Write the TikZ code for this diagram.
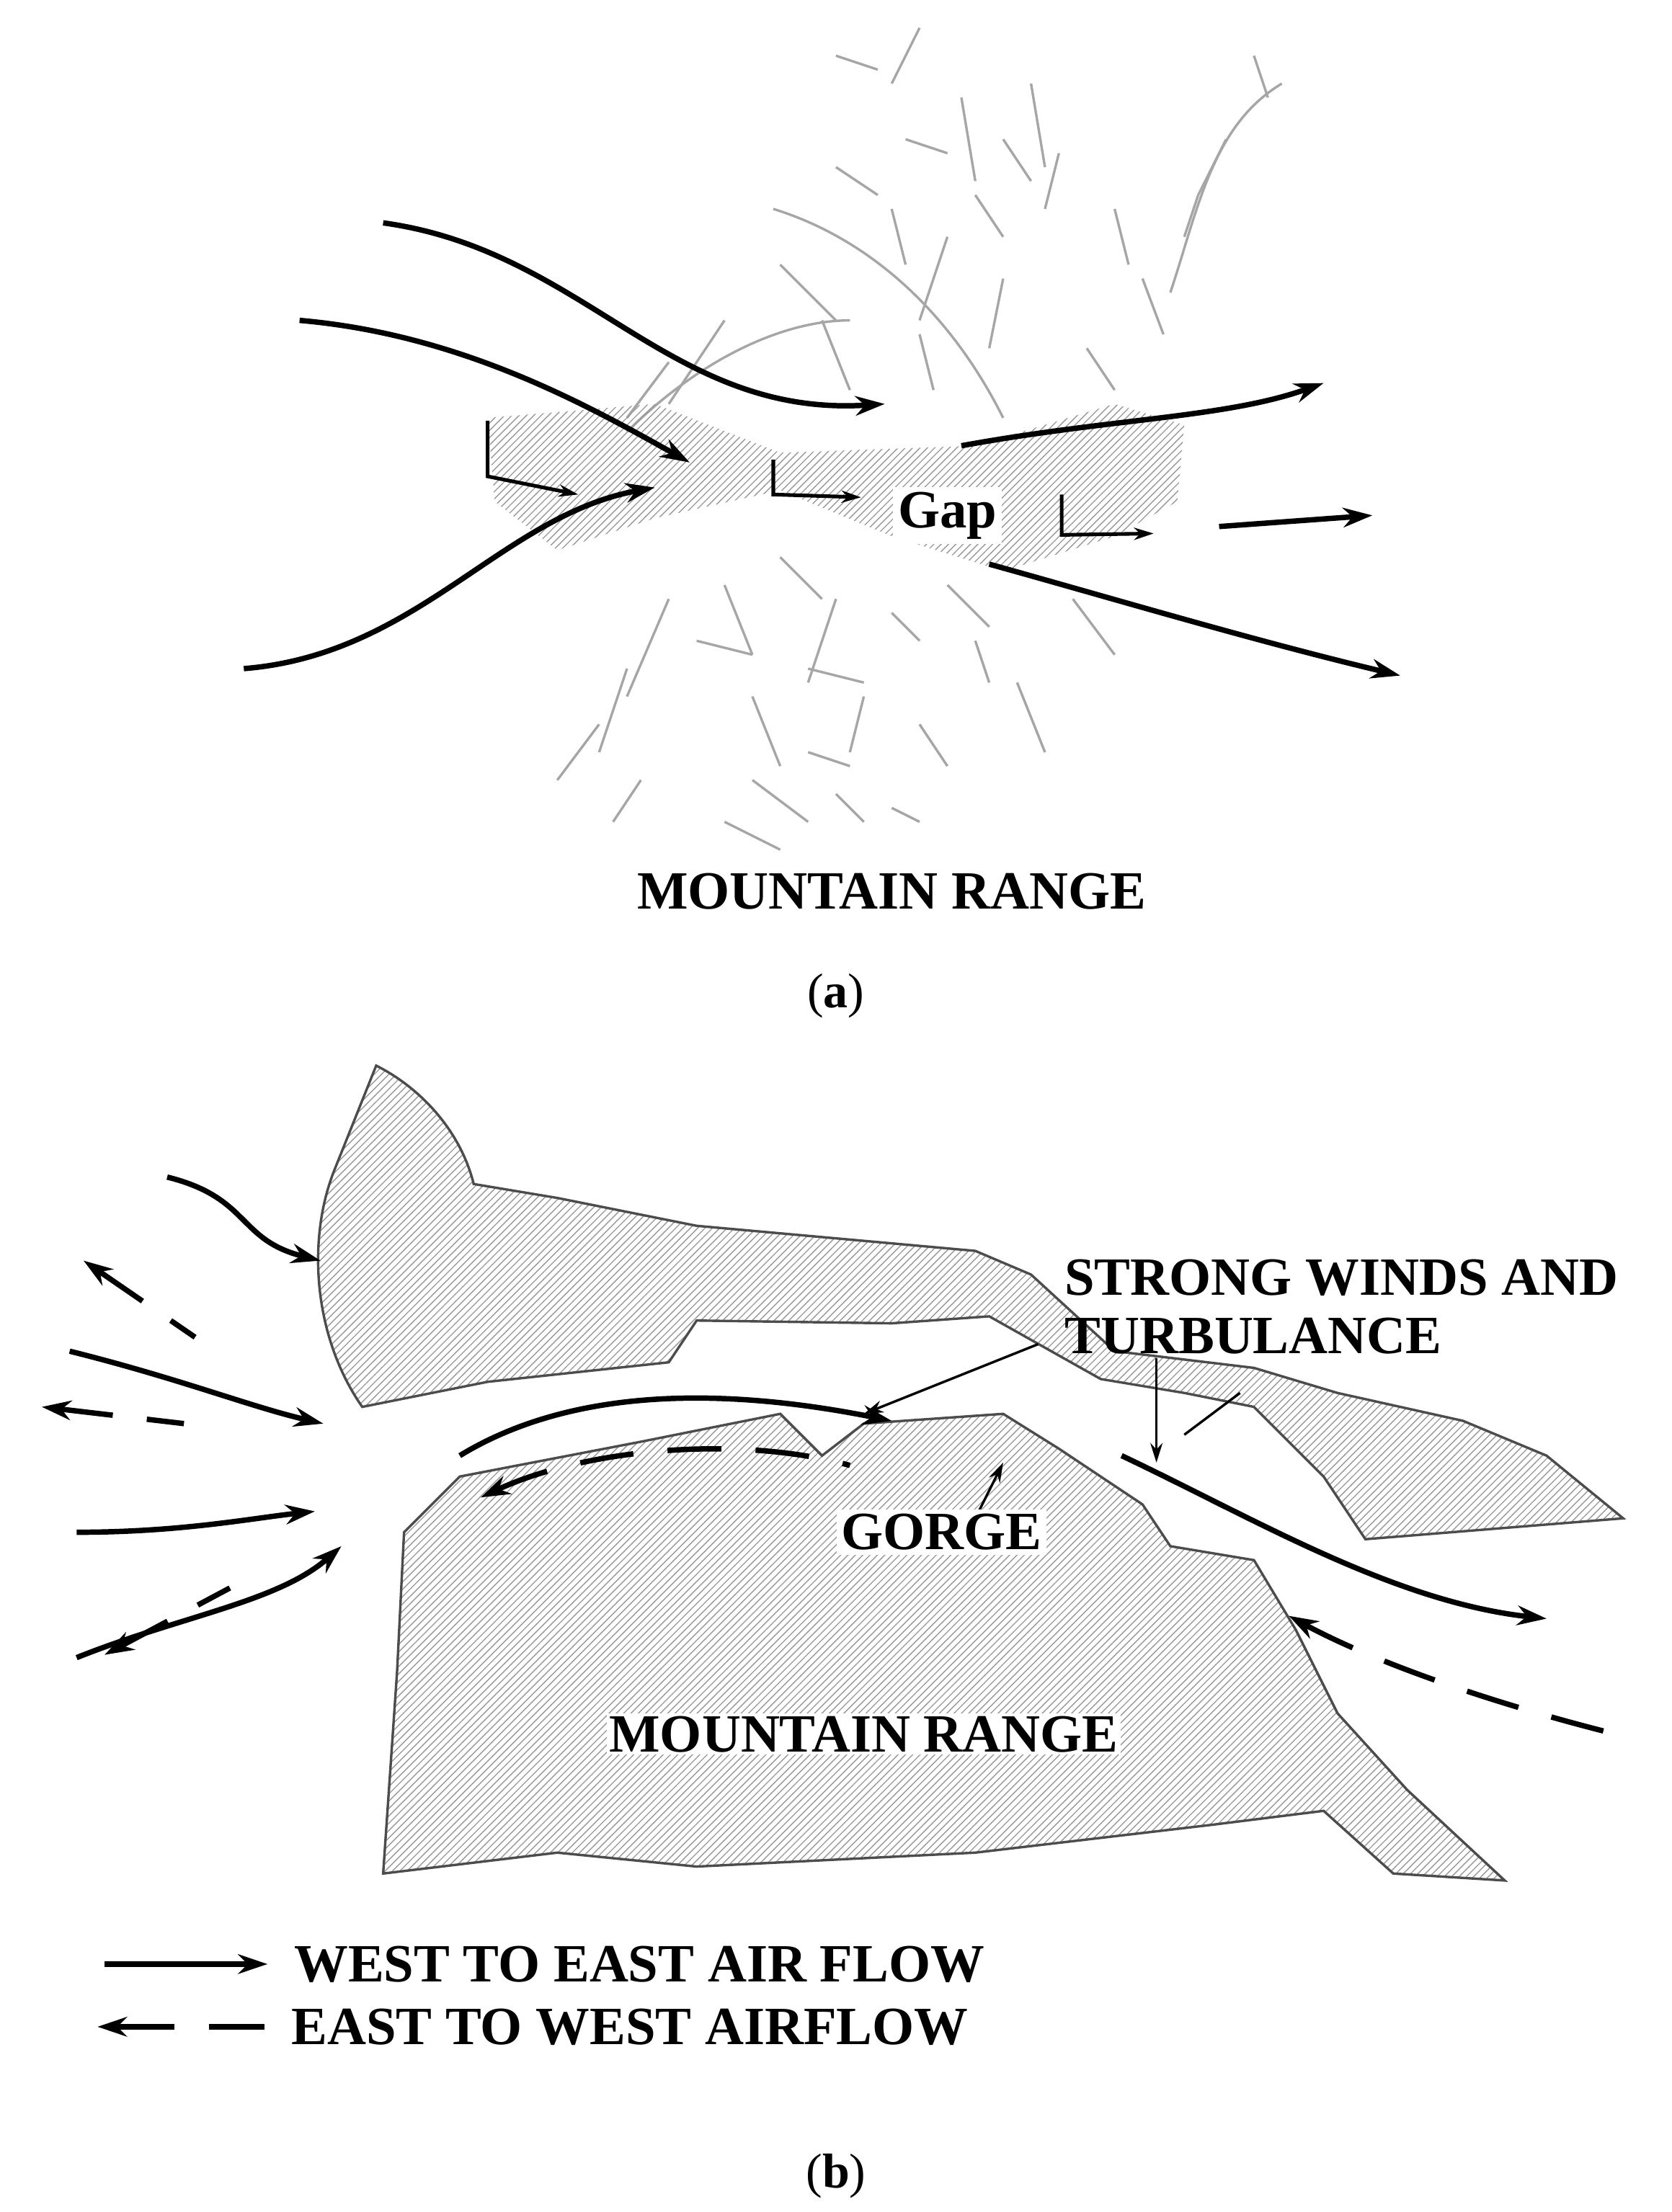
\documentclass[tikz,border=0pt]{standalone}
\usepackage{fontspec}
\setmainfont{Liberation Serif}
\usetikzlibrary{patterns,arrows.meta}
\begin{document}
\begin{tikzpicture}[x=0.02cm,y=-0.02cm,
 flow/.style={line width=2.2pt,-{Stealth[length=12pt,width=8pt]}},
 back/.style={line width=2.2pt,dash pattern=on 22pt off 14pt,{Stealth[length=12pt,width=8pt]}-},
 ptr/.style={line width=1pt,-{Stealth[length=8pt,width=5pt]}},
 sk/.style={gray!70,line width=1pt},
 hat/.style={pattern=north east lines,pattern color=gray!80,draw=black!70,line width=1pt},
 lab/.style={font=\bfseries\fontsize{22}{24}\selectfont},
 captxt/.style={font=\fontsize{20}{22}\selectfont}]
\useasboundingbox (0,0) rectangle (1200,1588);
% ---------- (a) sketch strokes
\foreach \x/\y/\dx/\dy in {600/40/30/10,640/60/20/-40,690/70/10/60,720/100/20/30,760/110/-10/40,800/150/10/40,
 820/200/15/40,600/120/30/20,640/150/10/40,680/170/-20/60,560/190/40/40,590/230/20/50,660/240/10/40,720/200/-10/50,
 780/250/20/30,520/230/-40/60,480/260/-30/40,700/140/20/30,650/100/30/10,740/60/10/60,
 520/420/20/50,560/400/30/30,600/430/-20/60,640/440/20/20,580/480/40/10,620/500/-10/40,540/500/20/50,
 480/430/-30/70,450/480/-20/60,430/520/-30/40,580/540/30/10,600/570/20/20,540/560/40/30,660/520/20/30,
 700/460/10/30,640/580/20/10,520/590/40/20,460/560/-20/30,680/420/30/30,500/460/40/10,
 880/100/-20/40,900/40/10/30,860/140/-10/30,770/430/30/40,730/490/20/50}
 \draw[sk] (\x,\y) -- ++(\dx,\dy);
\draw[sk] (555,150) .. controls (620,170) and (680,220) .. (720,300);
\draw[sk] (450,310) .. controls (500,260) and (560,230) .. (610,230);
\draw[sk] (920,60) .. controls (870,90) and (860,150) .. (840,210);
% ---------- (a) gap
\path[hat,draw=none] (350,300) -- (470,290) -- (560,325) -- (700,320) -- (800,290) -- (850,305) -- (845,360) -- (800,385)
 -- (720,410) -- (640,385) -- (560,352) -- (470,372) -- (400,395) -- (355,360) -- cycle;
\node[lab,fill=white,inner sep=2pt] (gap) at (680,370) {Gap};
\draw[flow] (275,160) .. controls (420,180) and (480,300) .. (635,290);
\draw[flow] (215,230) .. controls (330,240) and (420,290) .. (495,332);
\draw[flow] (175,480) .. controls (300,470) and (360,370) .. (470,350);
\draw[flow] (690,320) .. controls (800,300) and (880,300) .. (950,275);
\draw[flow] (710,405) .. controls (800,430) and (900,460) .. (1005,485);
\draw[flow] (875,378) -- (985,370);
\draw[ptr,line width=1.5pt] (350,302) -- (350,342) -- (415,355);
\draw[ptr,line width=1.5pt] (555,330) -- (555,355) -- (618,357);
\draw[ptr,line width=1.5pt] (762,355) -- (762,384) -- (828,383);
\node[lab] (mra) at (640,640) {MOUNTAIN RANGE};
\node[captxt] (ca) at (600,715) {(\textbf{a})};
% ---------- (b) mountains
\path[hat] (270,765) .. controls (300,780) and (330,810) .. (340,850) -- (400,860) -- (500,880) -- (700,898)
 -- (740,915) -- (800,970) -- (900,982) -- (960,1000) -- (1050,1020) -- (1110,1045) -- (1165,1090) -- (980,1105) -- (950,1060)
 -- (900,1010) -- (850,1000) -- (790,990) -- (710,945) -- (640,950) -- (500,948) -- (480,978) -- (350,992)
 -- (260,1010) .. controls (225,960) and (220,890) .. (240,840) -- cycle;
\path[hat] (275,1345) -- (285,1200) -- (290,1100) -- (330,1060) -- (460,1035) -- (560,1015) -- (590,1045) -- (620,1022)
 -- (720,1015) -- (760,1040) -- (820,1080) -- (840,1110) -- (900,1120) -- (930,1170) -- (960,1230) -- (1010,1285)
 -- (1080,1350) -- (1000,1345) -- (950,1300) -- (870,1310) -- (700,1330) -- (500,1340) -- (400,1330) -- cycle;
\draw[flow] (120,845) .. controls (180,860) and (170,890) .. (230,905);
\draw[flow] (50,970) .. controls (130,990) and (180,1010) .. (232,1022);
\draw[flow] (55,1100) .. controls (130,1100) and (180,1090) .. (226,1085);
\draw[flow] (55,1190) .. controls (130,1160) and (200,1150) .. (245,1110);
\draw[flow] (330,1045) .. controls (420,990) and (540,1000) .. (640,1020);
\draw[flow] (805,1045) .. controls (900,1090) and (1000,1150) .. (1110,1162);
\draw[back] (60,905) -- (140,960);
\draw[back] (30,1010) -- (132,1022);
\draw[back] (345,1075) .. controls (420,1040) and (530,1030) .. (610,1052);
\draw[back] (75,1188) -- (165,1140);
\draw[back] (925,1160) .. controls (980,1190) and (1060,1220) .. (1160,1245);
\draw[ptr] (745,965) -- (620,1015);
\draw[ptr] (830,975) -- (830,1050);
\draw[line width=1pt] (890,1000) -- (850,1030);
\draw[ptr] (700,1090) -- (720,1050);
\node[lab,align=left,anchor=west] (sw) at (758,938) {STRONG WINDS AND\\TURBULANCE};
\node[lab,anchor=west,fill=white,inner sep=2pt] (gorge) at (600,1100) {GORGE};
\node[lab,fill=white,inner sep=1pt] (mrb) at (620,1245) {MOUNTAIN RANGE};
% legend
\coordinate (l1a) at (75,1410); \coordinate (l1b) at (192,1410);
\coordinate (l2a) at (190,1455); \coordinate (l2b) at (70,1455);
\draw[flow] (l1a) -- (l1b);
\draw[flow] (125,1455) -- (l2b);
\draw[line width=2.2pt] (150,1455) -- (l2a);
\node[lab,anchor=west] (t1) at (205,1410) {WEST TO EAST AIR FLOW};
\node[lab,anchor=west] (t2) at (203,1455) {EAST TO WEST AIRFLOW};
\node[captxt] (cb) at (600,1562) {(\textbf{b})};
\end{tikzpicture}
\end{document}
